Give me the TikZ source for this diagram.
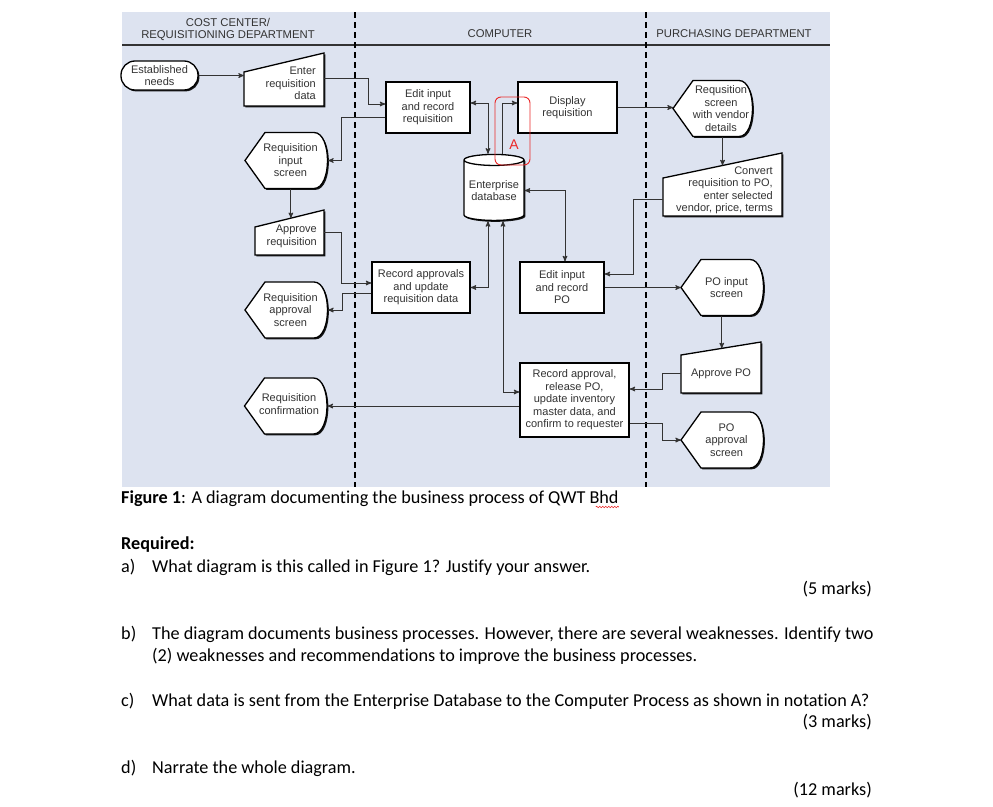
\documentclass[tikz,border=0pt]{standalone}
\usepackage{fontspec}
\setmainfont{Carlito}[Ligatures=NoCommon]
\newfontfamily\flowfont{Liberation Sans}
\usetikzlibrary{arrows,calc,shapes.geometric,shadows,decorations.pathmorphing}

\definecolor{lanebg}{RGB}{221,227,240}
\definecolor{inkgray}{RGB}{51,51,51}
\definecolor{markred}{RGB}{235,40,40}

\pgfdeclarelayer{back}
\pgfdeclarelayer{outline}
\pgfsetlayers{back,outline,main}

\tikzset{
  flowtext/.style = {font=\flowfont\fontsize{11}{12.5}\selectfont, text=inkgray,
                     align=center, inner sep=0pt},
  boxshadow/.style = {drop shadow={shadow xshift=1.4pt, shadow yshift=-1.4pt,
                      fill=black, opacity=0.9}},
  proc/.style = {rectangle, draw=black, line width=1.3pt, fill=white,
                 boxshadow, flowtext},
  term/.style = {proc, rounded corners=14pt,
                 minimum width=77pt, minimum height=29pt},
  dbase/.style = {cylinder, shape border rotate=90, aspect=0.22,
                  draw=black, line width=1.3pt, fill=white, boxshadow, flowtext,
                  minimum width=60pt, minimum height=66pt},
  slot/.style = {rectangle, inner sep=0pt, outer sep=0pt},
  disp/.style = {slot, minimum width=83pt, minimum height=56pt},
  shapeline/.style = {draw=black, line width=1.3pt, fill=white, boxshadow},
  conn/.style = {draw=inkgray, line width=1pt, ->, >=stealth'},
  twoway/.style = {conn, <->},
  lane/.style = {draw=black, line width=2.2pt, dash pattern=on 6pt off 4pt},
  heading/.style = {font=\flowfont\fontsize{11.3}{12}\selectfont, text=inkgray,
                    align=center, inner sep=0pt},
  markbox/.style = {draw=markred, line width=0.9pt, rounded corners=6pt,
                    minimum width=35pt, minimum height=68pt, inner sep=0pt},
  para/.style = {font=\fontsize{18.2}{22}\selectfont, anchor=base west, inner sep=0pt},
}

\begin{document}
\begin{tikzpicture}[x=1pt, y=-1pt]
\useasboundingbox (0,0) rectangle (993,806);

\begin{pgfonlayer}{back}
  \fill[lanebg] (122,12) rectangle (830,487);
  \draw[inkgray, line width=1.5pt] (122,45) -- (830,45);
  \draw[lane] (355,12) -- (355,487);
  \draw[lane] (646,12) -- (646,487);
\end{pgfonlayer}

% lane headings
\node[heading] (hdcost) at (228,29) {COST CENTER/\\REQUISITIONING DEPARTMENT};
\node[heading] (hdcomp) at (500,34) {COMPUTER};
\node[heading] (hdpurch) at (734,34) {PURCHASING DEPARTMENT};

% cost center / requisitioning
\node[term] (need) at (159.5,75.5) {Established\\needs};

\node[slot,
      minimum width = 80pt,
      minimum height = 53pt] (enter) at (284,79.5) {};
\node[flowtext, anchor=east, align=right] (enter-t) at ($(enter.east)+(-8,4)$) {Enter\\requisition\\data};

\node[disp] (reqin) at (286.5,160.5) {};
\node[flowtext] (reqin-t) at ($(reqin.center)+(4,0)$) {Requisition\\input\\screen};

\node[slot,
      minimum width = 69pt,
      minimum height = 45pt] (apprq) at (289.5,232.5) {};
\node[flowtext, anchor=east, align=right] (apprq-t) at ($(apprq.east)+(-7,4)$) {Approve\\requisition};

\node[disp] (reqappr) at (286.5,310) {};
\node[flowtext] (reqappr-t) at ($(reqappr.center)+(4,0)$) {Requisition\\approval\\screen};

\node[disp] (reqconf) at (286,406) {};
\node[flowtext] (reqconf-t) at ($(reqconf.center)+(3,-2)$) {Requisition\\confirmation};

% computer
\node[proc,
      minimum width = 84pt,
      minimum height = 51pt] (editrq) at (428,107.5) {Edit input\\and record\\requisition};
\node[proc,
      minimum width = 99pt,
      minimum height = 51pt] (disprq) at (567.5,107.5) {Display\\requisition};
\node[dbase] (edb) at (494,190.5) {Enterprise\\database};
\node[proc,
      minimum width = 98pt,
      minimum height = 51pt] (recapp) at (421,287.5) {Record approvals\\and update\\requisition data};
\node[proc,
      minimum width = 84pt,
      minimum height = 51pt] (editpo) at (562,287.5) {Edit input\\and record\\PO};
\node[proc,
      minimum width = 109pt,
      minimum height = 74pt] (relpo) at (574.5,400) {Record approval,\\release PO,\\update inventory\\master data, and\\confirm to requester};

% notation A
\node[markbox] (markA) at (512.5,131) {};
\node[text=markred, font=\flowfont\fontsize{14}{14}\selectfont, inner sep=0pt] (letterA) at (514,145) {A};

% purchasing
\node[slot,
      minimum width = 80pt,
      minimum height = 56pt] (vendscr) at (713,108.5) {};
\node[flowtext] (vendscr-t) at ($(vendscr.center)+(8,0)$) {Requsition\\screen\\with vendor\\details};

\node[slot,
      minimum width = 119pt,
      minimum height = 63pt] (conv) at (722.5,184.5) {};
\node[flowtext, anchor=east, align=right] (conv-t) at ($(conv.east)+(-9,6)$) {Convert\\requisition to PO,\\enter selected\\vendor, price, terms};

\node[disp] (poin) at (722.5,287.5) {};
\node[flowtext] (poin-t) at ($(poin.center)+(4,0)$) {PO input\\screen};

\node[slot,
      minimum width = 80pt,
      minimum height = 51pt] (apprpo) at (721,367.5) {};
\node[flowtext] (apprpo-t) at ($(apprpo.center)+(0,6)$) {Approve PO};

\node[disp] (poappr) at (722.5,440) {};
\node[flowtext] (poappr-t) at ($(poappr.center)+(4,0)$) {PO\\approval\\screen};

% outlines of manual inputs and displays
\begin{pgfonlayer}{outline}
  \foreach \n/\d in {enter/19, apprq/17, conv/25, apprpo/13} {
    \coordinate (\n-tl) at ($(\n.north west)+(0,\d)$);
    \draw[shapeline] (\n.south west) -- (\n.south east) -- (\n.north east) -- (\n-tl) -- cycle;
  }
  \foreach \n in {reqin, reqappr, reqconf, vendscr, poin, poappr}
    \draw[shapeline] (\n.west) -- ($(\n.north west)+(20,0)$) -- ($(\n.north east)+(-14,0)$)
      .. controls ($(\n.north east)+(4,0)$) and ($(\n.south east)+(4,0)$) .. ($(\n.south east)+(-14,0)$)
      -- ($(\n.south west)+(20,0)$) -- cycle;
\end{pgfonlayer}

\coordinate (apprq-top) at ($(apprq-tl)!.52!(apprq.north east)$);
\coordinate (conv-top) at ($(conv-tl)!.5!(conv.north east)$);
\coordinate (apprpo-top) at ($(apprpo-tl)!.51!(apprpo.north east)$);

% connectors
\draw[conn] (need.east) -- (need.east -| enter.west);
\draw[conn] ($(enter.east)+(0,-1.5)$) -- ++(44,0) |- ($(editrq.west)+(0,-3.5)$);
\draw[conn] ($(editrq.west)+(0,9.5)$) -- ++(-44,0) |- (reqin.east);
\draw[conn] (reqin.south -| apprq-top) -- (apprq-top);
\draw[conn] (apprq.east) -- ++(17,0) |- ($(recapp.west)+(0,-4.5)$);
\draw[conn] ($(recapp.west)+(0,5.5)$) -- ++(-29,0) |- (reqappr.east);
\draw[twoway] ($(editrq.east)+(0,-4.5)$) -| ($(edb.north)+(-6,0)$);
\draw[conn] ($(edb.north)+(8,0)$) |- ($(disprq.west)+(0,-4.5)$);
\draw[conn] (disprq.east) -- (disprq.east -| vendscr.west);
\draw[conn] (vendscr.south -| conv-top) -- (conv-top);
\draw[conn] ($(conv.south west)+(0,-17)$) -- ++(-30,0) |- ($(editpo.east)+(0,-13.5)$);
\draw[twoway] (edb.east) -| ($(editpo.north)+(3,0)$);
\draw[conn] (editpo.east) -- (editpo.east -| poin.west);
\draw[conn] (poin.south -| apprpo-top) -- (apprpo-top);
\draw[conn] ($(apprpo.west)+(0,5.5)$) -- ++(-19,0) |- ($(relpo.east)+(0,-11)$);
\draw[conn] ($(relpo.east)+(0,23)$) -- ++(33,0) |- (poappr.west);
\draw[conn] (relpo.west |- reqconf.east) -- (reqconf.east);
\draw[twoway] ($(edb.south)+(9,0)$) |- ($(relpo.west)+(0,-8)$);
\draw[twoway] ($(edb.south)+(-6,0)$) |- (recapp.east);

% question text
\node[para] (cap) at (121,503) {\textbf{Figure 1}: A diagram documenting the business process of QWT Bhd};
\draw[markred, line width=0.6pt, decorate,
      decoration={snake, amplitude=0.8pt, segment length=3pt}]
  ($(cap.base east)+(-23,4)$) -- ($(cap.base east)+(0,4)$);
\node[para] (req) at (121,549) {\textbf{Required:}};
\node[para] (qa-l) at (121,572) {a)};
\node[para] (qa) at (152,572) {What diagram is this called in Figure 1? Justify your answer.};
\node[para, anchor=base east] (qa-m) at (872,594) {(5 marks)};
\node[para] (qb-l) at (121,639) {b)};
\node[para] (qb) at (152,639) {The diagram documents business processes. However, there are several weaknesses. Identify two};
\node[para] (qb2) at (152,661) {(2) weaknesses and recommendations to improve the business processes.};
\node[para] (qc-l) at (121,706) {c)};
\node[para] (qc) at (152,706) {What data is sent from the Enterprise Database to the Computer Process as shown in notation A?};
\node[para, anchor=base east] (qc-m) at (872,727) {(3 marks)};
\node[para] (qd-l) at (121,773) {d)};
\node[para] (qd) at (152,773) {Narrate the whole diagram.};
\node[para, anchor=base east] (qd-m) at (872,795) {(12 marks)};

\end{tikzpicture}
\end{document}
